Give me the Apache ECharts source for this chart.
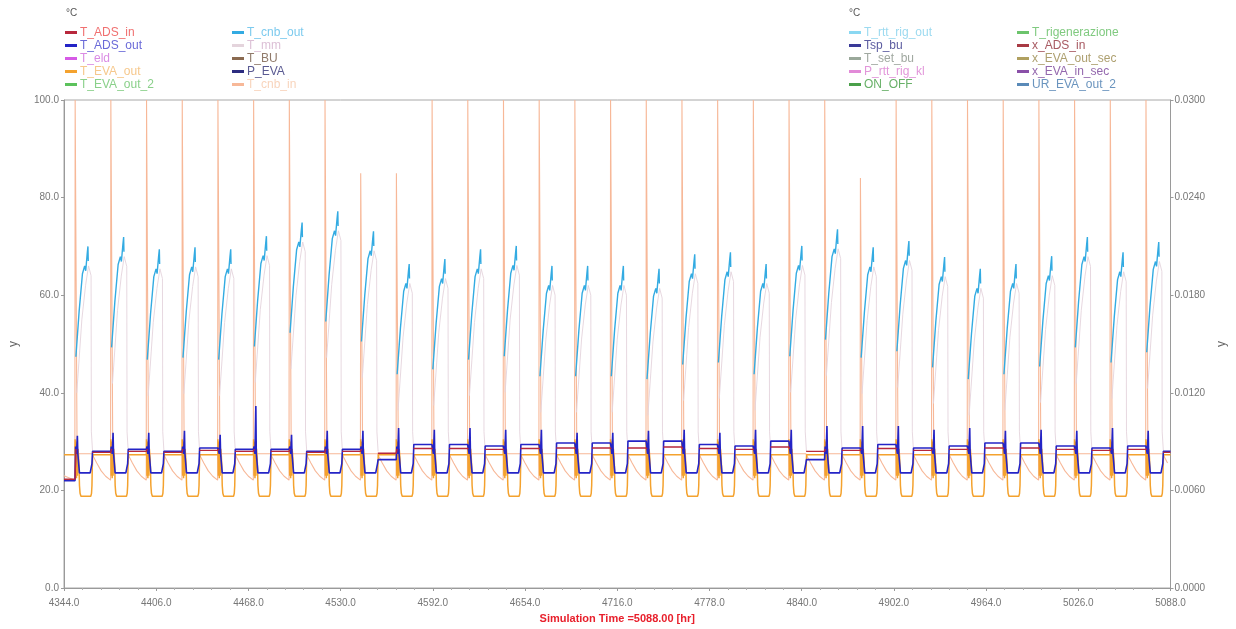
<!DOCTYPE html>
<html><head><meta charset="utf-8">
<script src="https://cdn.jsdelivr.net/npm/echarts@6/dist/echarts.min.js"></script>
<style>html,body{margin:0;padding:0;background:#fff;overflow:hidden;width:1236px;height:629px}#c{position:absolute;left:0;top:0;width:1236px;height:629px}</style>
</head><body><div id="c"></div>
<script>
// ---------- axes ----------
const xMin = 4344, xMax = 5088, xStep = 62;
const yLeftTicks = [0, 20, 40, 60, 80, 100];
const yRightTicks = [0, 0.006, 0.012, 0.018, 0.024, 0.03];
const xTitle = 'Simulation Time =5088.00 [hr]';

// ---------- per-day readings (31 daily cycles) ----------
const dayStart = [4344, 4368, 4392, 4416, 4440, 4464, 4488, 4512, 4536, 4560, 4584, 4608, 4632, 4656, 4680, 4704,
  4728, 4752, 4776, 4800, 4824, 4848, 4872, 4896, 4920, 4944, 4968, 4992, 5016, 5040, 5064];
const cnbOutPeak = [70.0, 71.9, 69.4, 69.8, 69.4, 72.1, 74.9, 77.2, 73.1, 66.4, 67.4, 69.4, 70.1, 66.0, 66.0, 66.0,
  65.4, 68.4, 68.8, 66.4, 70.1, 73.5, 69.8, 71.1, 67.8, 65.4, 66.4, 68.0, 71.9, 68.8, 70.9];
const cnbInTop = [100, 100, 100, 100, 100, 100, 100, 100, 85, 85, 100, 100, 100, 100, 100, 100,
  100, 100, 100, 100, 100, 100, 84, 100, 100, 100, 100, 100, 100, 100, 100];
const adsOutPeak = [31.2, 31.8, 31.8, 32.2, 31.4, 37.3, 31.4, 32.2, 32.2, 32.8, 32.4, 32.8, 32.4, 32.4, 31.8, 31.8,
  32.2, 32.4, 31.8, 32.4, 32.4, 33.2, 33.2, 33.2, 32.4, 32.8, 32.2, 32.4, 32.2, 32.8, 32.2];
const adsOutGap = [28.0, 28.4, 28.0, 28.7, 28.4, 28.4, 28.0, 28.4, 26.3, 29.4, 29.4, 29.1, 29.4, 29.7, 29.7, 30.1,
  30.1, 29.4, 29.1, 30.1, 26.3, 28.7, 29.4, 28.7, 29.1, 29.7, 29.7, 29.1, 28.7, 29.1, 28.0];
const adsInGap = [27.8, 28.0, 27.8, 28.2, 28.0, 28.0, 27.8, 28.0, 27.6, 28.6, 28.6, 28.4, 28.6, 28.7, 28.7, 28.7,
  28.9, 28.6, 28.4, 28.9, 28.0, 28.2, 28.6, 28.2, 28.4, 28.7, 28.7, 28.4, 28.2, 28.4, 27.8];
const startLevels = { adsOut: 22.0, adsIn: 22.3, evaOut: 27.3, cnbIn: 23.0 };

// ---------- within-day shapes: [hour, value] ----------
// cnb_out: value relative to the day's peak
const cnbOutDay = [[8.0, -22.6], [10.2, -13.2], [12.4, -5.6], [13.9, -4], [14.6, -5], [15.6, -1.5], [16.1, 0], [16.3, -3]];
// T_mm: rise relative to peak, then absolute fall
const mmRise = [[8.6, -30], [12.0, -15], [14.5, -8], [16.5, -4], [18.2, -6]];
const mmFall = [[18.4, 32], [19.2, 28]];
// cnb_in: 'top' = spike top of the day
const cnbInDay = [[7.3, 22.1], [7.5, 'top'], [8.6, 'top'], [8.8, 27.5], [18.8, 27.5], [19.3, 27.7], [22, 25.6], [25, 24.0], [28, 22.9]];
// EVA out (absolute)
const evaOutDay = [[7.4, 27.3], [7.5, 30.5], [7.8, 23], [8.1, 30], [8.4, 22.5], [8.7, 29.5], [9.0, 23], [9.4, 28.5], [9.8, 27],
  [10.1, 25], [10.4, 21], [10.8, 19.4], [11.4, 18.8], [18.0, 18.8], [18.5, 19.4], [18.8, 21], [19.0, 24.5], [19.3, 27.3]];
// ADS out: 'prev' = previous gap level, 'peak', 'gap'
const adsOutDay = [[7.4, 'prev'], [7.8, 29], [8.4, 27.5], [9.0, 'peak'], [9.3, 27.5], [10.0, 27.3], [10.4, 23.6], [17.6, 23.6], [18.8, 25.5], [19.2, 'gap']];
// ADS in: only between cycles (hidden under the other traces during a cycle)
const adsInDay = [[7.4, 'prev'], [8.0, 28.5], [8.2, null], [19.0, 'gap']];

// ---------- legend names ----------
const legLeftA = ['T_ADS_in', 'T_ADS_out', 'T_eld', 'T_EVA_out', 'T_EVA_out_2'];
const legLeftB = ['T_cnb_out', 'T_mm', 'T_BU', 'P_EVA', 'T_cnb_in'];
const legRightA = ['T_rtt_rig_out', 'Tsp_bu', 'T_set_bu', 'P_rtt_rig_kl', 'ON_OFF'];
const legRightB = ['T_rigenerazione', 'x_ADS_in', 'x_EVA_out_sec', 'x_EVA_in_sec', 'UR_EVA_out_2'];

const lineColor = {
  T_ADS_in: '#b8283c', T_ADS_out: '#2424c6', T_eld: '#d65ae6', T_EVA_out: '#f4a22e', T_EVA_out_2: '#5cc25c',
  T_cnb_out: '#33abe2', T_mm: '#e4d4dc', T_BU: '#8a6a50', P_EVA: '#2c2c80', T_cnb_in: '#f7b898',
  T_rtt_rig_out: '#8ad8f2', Tsp_bu: '#3a3a98', T_set_bu: '#9aa89a', P_rtt_rig_kl: '#e28ad8', ON_OFF: '#4aa04a',
  T_rigenerazione: '#6cc46c', x_ADS_in: '#a83a44', x_EVA_out_sec: '#b0a060', x_EVA_in_sec: '#8a50a8', UR_EVA_out_2: '#5a8ab8'
};
const textColor = {
  T_ADS_in: '#f07070', T_ADS_out: '#6a6ad8', T_eld: '#da8ce4', T_EVA_out: '#f6c88c', T_EVA_out_2: '#8ad08a',
  T_cnb_out: '#7ccaee', T_mm: '#dcc0d6', T_BU: '#907a6a', P_EVA: '#5a5a92', T_cnb_in: '#f8d4bc',
  T_rtt_rig_out: '#9cdaf0', Tsp_bu: '#5c5ca0', T_set_bu: '#a0a8a0', P_rtt_rig_kl: '#e296da', ON_OFF: '#68b068',
  T_rigenerazione: '#80ca80', x_ADS_in: '#a85a62', x_EVA_out_sec: '#aea070', x_EVA_in_sec: '#9468ae', UR_EVA_out_2: '#6a94be'
};
const rightAxisNames = ['x_ADS_in', 'x_EVA_out_sec', 'x_EVA_in_sec', 'UR_EVA_out_2'];

// ---------- build series data ----------
function buildCnbOut() {
  const d = [];
  dayStart.forEach((s, i) => {
    const p = cnbOutPeak[i];
    cnbOutDay.forEach(([h, v]) => d.push([s + h, p + v]));
    d.push([s + 16.5, null]);
  });
  return d;
}
function buildMm() {
  const d = [];
  dayStart.forEach((s, i) => {
    const p = cnbOutPeak[i];
    mmRise.forEach(([h, v]) => d.push([s + h, p + v]));
    mmFall.forEach(([h, v]) => d.push([s + h, v]));
    d.push([s + 19.3, null]);
  });
  return d;
}
function buildCnbIn() {
  const d = [[xMin, startLevels.cnbIn]];
  dayStart.forEach((s, i) => {
    cnbInDay.forEach(([h, v]) => {
      if (s + h <= xMax) d.push([s + h, v === 'top' ? cnbInTop[i] : v]);
    });
  });
  return d;
}
function buildEva() {
  const d = [[xMin, startLevels.evaOut]];
  dayStart.forEach(s => evaOutDay.forEach(([h, v]) => d.push([s + h, v])));
  d.push([xMax, startLevels.evaOut]);
  return d;
}
function buildAds(tpl, peaks, gaps, startVal) {
  const d = [[xMin, startVal]];
  dayStart.forEach((s, i) => {
    const prev = i === 0 ? startVal : gaps[i - 1];
    tpl.forEach(([h, v]) => {
      let val = v;
      if (v === 'prev') val = prev;
      else if (v === 'peak') val = peaks[i];
      else if (v === 'gap') val = gaps[i];
      d.push([s + h, val]);
    });
  });
  d.push([xMax, gaps[gaps.length - 1]]);
  return d;
}

const dataFor = {
  T_cnb_in: buildCnbIn(),
  T_mm: buildMm(),
  T_cnb_out: buildCnbOut(),
  T_EVA_out: buildEva(),
  T_ADS_out: buildAds(adsOutDay, adsOutPeak, adsOutGap, startLevels.adsOut),
  T_ADS_in: buildAds(adsInDay, null, adsInGap, startLevels.adsIn)
};
const widthFor = { T_cnb_in: 1.1, T_mm: 0.9, T_cnb_out: 1.4, T_EVA_out: 1.5, T_ADS_in: 1.4, T_ADS_out: 1.6 };
const drawOrder = ['T_cnb_in', 'T_mm', 'T_cnb_out', 'T_EVA_out', 'T_ADS_out', 'T_ADS_in'];

const allNames = [...legLeftA, ...legLeftB, ...legRightA, ...legRightB];
const series = [];
allNames.filter(n => !drawOrder.includes(n)).forEach(n => series.push({
  name: n, type: 'line', data: [], yAxisIndex: rightAxisNames.includes(n) ? 1 : 0,
  showSymbol: false, itemStyle: { color: lineColor[n] }, lineStyle: { color: lineColor[n] }
}));
drawOrder.forEach(n => series.push({
  name: n, type: 'line', data: dataFor[n], yAxisIndex: 0, symbol: 'none', showSymbol: false,
  connectNulls: false, clip: true,
  itemStyle: { color: lineColor[n] }, lineStyle: { color: lineColor[n], width: widthFor[n] }
}));

const FF = 'Liberation Sans, Arial, sans-serif';
function legend(names, left) {
  return {
    orient: 'vertical', left: left, top: 26, padding: 0, icon: 'rect', itemWidth: 12, itemHeight: 3, itemGap: 0,
    selectedMode: false,
    textStyle: { fontSize: 12, fontFamily: FF, lineHeight: 13, padding: [0, 0, 0, -2] },
    data: names.map(n => ({ name: n, textStyle: { color: textColor[n] } }))
  };
}

const chart = echarts.init(document.getElementById('c'), null, { renderer: 'canvas', width: 1236, height: 629 });
chart.setOption({
  animation: false,
  backgroundColor: '#ffffff',
  grid: { left: 63, right: 53, top: 100, bottom: 38, show: true, borderColor: '#a8a8a8', borderWidth: 1, containLabel: false },
  legend: [legend(legLeftA, 65), legend(legLeftB, 232), legend(legRightA, 849), legend(legRightB, 1017)],
  graphic: [
    { type: 'text', left: 66, top: 8, style: { text: '°C', fontSize: 10, fontFamily: FF, fill: '#555' } },
    { type: 'text', left: 849, top: 8, style: { text: '°C', fontSize: 10, fontFamily: FF, fill: '#555' } }
  ],
  xAxis: {
    type: 'value', min: xMin, max: xMax, interval: xStep,
    name: xTitle, nameLocation: 'middle', nameGap: 25,
    nameTextStyle: { color: '#e8202c', fontWeight: 'bold', fontSize: 11, fontFamily: FF },
    axisLine: { show: true, lineStyle: { color: '#9a9a9a' } },
    axisTick: { show: true, length: 3, lineStyle: { color: '#9a9a9a' } },
    minorTick: { show: true, splitNumber: 5, length: 2, lineStyle: { color: '#b0b0b0' } },
    axisLabel: { formatter: v => v.toFixed(1), fontSize: 10, color: '#777', fontFamily: FF, margin: 10 },
    splitLine: { show: false }
  },
  yAxis: [
    {
      type: 'value', min: yLeftTicks[0], max: yLeftTicks[yLeftTicks.length - 1], interval: yLeftTicks[1] - yLeftTicks[0],
      name: 'y', nameLocation: 'middle', nameGap: 44, nameRotate: 90,
      nameTextStyle: { color: '#666', fontSize: 12, fontFamily: FF },
      axisLine: { show: true, lineStyle: { color: '#9a9a9a' } },
      axisTick: { show: true, length: 3, lineStyle: { color: '#9a9a9a' } },
      axisLabel: { formatter: v => v.toFixed(1), fontSize: 10, color: '#777', fontFamily: FF, margin: 5 },
      splitLine: { show: false }
    },
    {
      type: 'value', position: 'right', min: yRightTicks[0], max: yRightTicks[yRightTicks.length - 1],
      interval: yRightTicks[1] - yRightTicks[0],
      name: 'y', nameLocation: 'middle', nameGap: 40, nameRotate: 90,
      nameTextStyle: { color: '#666', fontSize: 12, fontFamily: FF },
      axisLine: { show: true, lineStyle: { color: '#9a9a9a' } },
      axisTick: { show: true, length: 3, lineStyle: { color: '#9a9a9a' } },
      axisLabel: { formatter: v => v.toFixed(4), fontSize: 10, color: '#777', fontFamily: FF, margin: 4 },
      splitLine: { show: false }
    }
  ],
  series: series
});
</script>
</body></html>
